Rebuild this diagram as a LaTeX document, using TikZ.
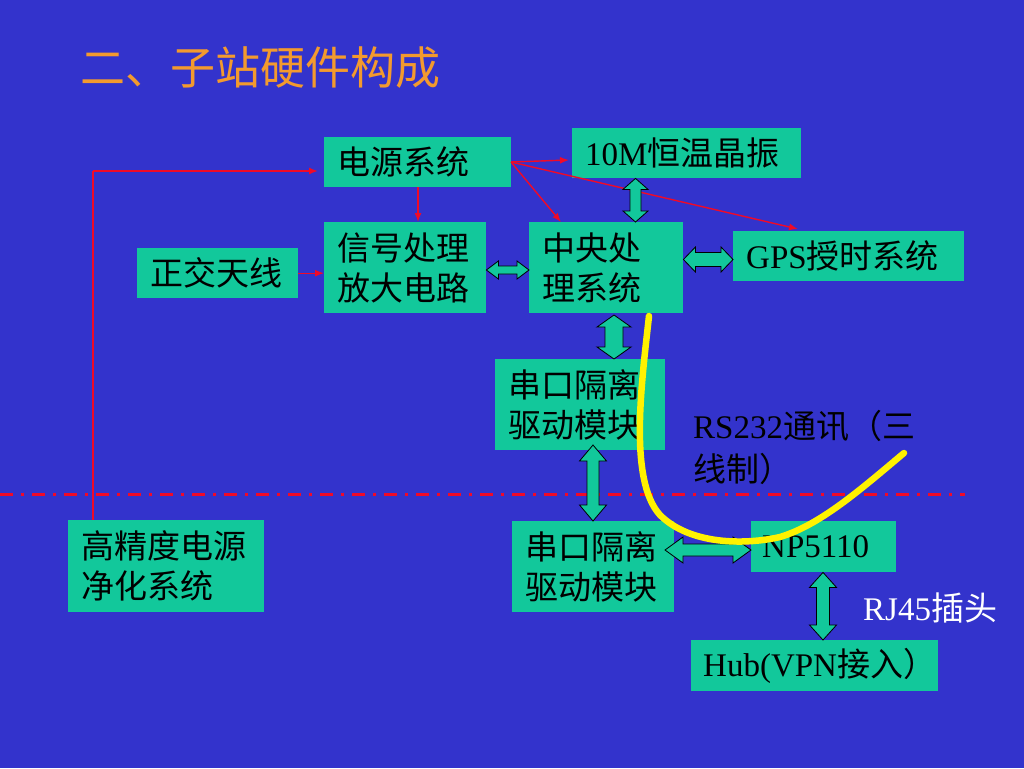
\documentclass[tikz,border=0pt]{standalone}
\usepackage{fontspec}
\setmainfont{Liberation Serif}
\newfontfamily\cjk{Noto Sans CJK SC}
\usetikzlibrary{calc,arrows.meta}
\definecolor{bgblue}{RGB}{51,51,204}
\definecolor{boxg}{RGB}{18,200,155}
\definecolor{ttl}{RGB}{243,154,46}
\definecolor{redl}{RGB}{240,10,40}
\newcommand\dblV[5]{% top, bottom, half shaft, half head, head length
  \draw[dblarr] (#1) -- ($(#1)+(#4,#5)$) -- ($(#1)+(#3,#5)$) -- ($(#2)+(#3,-#5)$) -- ($(#2)+(#4,-#5)$) -- (#2)
    -- ($(#2)+(-#4,-#5)$) -- ($(#2)+(-#3,-#5)$) -- ($(#1)+(-#3,#5)$) -- ($(#1)+(-#4,#5)$) -- cycle;}
\newcommand\dblH[5]{% left, right, half shaft, half head, head length
  \draw[dblarr] (#1) -- ($(#1)+(#5,-#4)$) -- ($(#1)+(#5,-#3)$) -- ($(#2)+(-#5,-#3)$) -- ($(#2)+(-#5,-#4)$) -- (#2)
    -- ($(#2)+(-#5,#4)$) -- ($(#2)+(-#5,#3)$) -- ($(#1)+(#5,#3)$) -- ($(#1)+(#5,#4)$) -- cycle;}
\tikzset{
  box/.style={fill=boxg, anchor=north west, inner xsep=13pt, inner ysep=0pt, align=left,
    font=\fontsize{33}{40}\selectfont, text=black},
  dblarr/.style={fill=boxg, draw=black, line width=0.8pt, line join=miter},
  redarr/.style={draw=redl, line width=1.4pt, -{Latex[length=9pt,width=7pt]}},
  redln/.style={draw=redl, line width=1.4pt},
}
\begin{document}
\begin{tikzpicture}[x=1pt,y=-1pt]
\useasboundingbox (0,0) rectangle (1024,768);
\fill[bgblue] (0,0) rectangle (1024,768);

% title
\node[anchor=west, inner sep=0pt, text=ttl, font=\cjk\fontsize{45}{48}\selectfont] (title) at (80,68) {二、子站硬件构成};

% boxes
\node[box, minimum width=187pt, minimum height=50pt, text width=161pt] (pwr) at (324,137) {\cjk 电源系统};
\node[box, minimum width=229pt, minimum height=50pt, text width=203pt] (osc) at (572,128) {10M{\cjk 恒温晶振}};
\node[box, minimum width=162pt, minimum height=91pt, text width=136pt] (sig) at (324,222) {\cjk 信号处理\\\cjk 放大电路};
\node[box, minimum width=154pt, minimum height=91pt, text width=128pt] (cpu) at (529,222) {\cjk 中央处\\\cjk 理系统};
\node[box, minimum width=231pt, minimum height=50pt, text width=205pt] (gps) at (733,231) {GPS{\cjk 授时系统}};
\node[box, minimum width=161pt, minimum height=50pt, text width=135pt] (ant) at (137,248) {\cjk 正交天线};
\node[box, minimum width=170pt, minimum height=91pt, text width=144pt] (ser1) at (495,359) {\cjk 串口隔离\\\cjk 驱动模块};
\node[box, minimum width=196pt, minimum height=92pt, text width=170pt] (hp) at (68,520) {\cjk 高精度电源\\\cjk 净化系统};
\node[box, minimum width=162pt, minimum height=91pt, text width=136pt] (ser2) at (512,521) {\cjk 串口隔离\\\cjk 驱动模块};
\node[box, minimum width=145pt, minimum height=51pt, text width=123pt, inner xsep=11pt] (np) at (751,521) {NP5110};
\node[box, minimum width=247pt, minimum height=51pt, text width=223pt, inner xsep=12pt] (hub) at (691,640) {Hub(VPN{\cjk 接入）}};

% labels
\node[anchor=north west, inner sep=0pt, align=left, font=\fontsize{33}{43}\selectfont, text=black] (rs) at (693,410) {RS232{\cjk 通讯（三}\\{\cjk 线制）}};
\node[anchor=west, inner sep=0pt, font=\fontsize{33}{40}\selectfont, text=white] (rj) at (863,608) {RJ45{\cjk 插头}};

% dash-dot separator
\coordinate (dl) at (0,494);
\coordinate (dr) at (965,494);
\draw[redl, line width=3pt, dash pattern=on 13pt off 8pt on 3pt off 8pt] (dl) -- (dr);

% red power lines
\coordinate (pc) at (93,171);
\draw[redln] (hp.north -| 93,0) -- (pc);
\draw[redarr] (pc) -- ([xshift=-6pt]pwr.west |- 0,171);
\draw[redarr] (ant.east) -- (sig.west |- ant.east);
\draw[redarr] (pwr.south -| 418,0) -- (sig.north -| 418,0);
\coordinate (ps) at (511,162);
\draw[redarr] (ps) -- (569,160);
\draw[redarr] (ps) -- (cpu.north -| 561,0);
\draw[redarr] (ps) -- (798,229);

% block double arrows
\coordinate (a1t) at (osc.south -| 635.5,0);
\coordinate (a1b) at (cpu.north -| 635.5,0);
\dblV{a1t}{a1b}{5.5}{12.5}{11}
\coordinate (a2l) at (sig.east |- 0,270);
\coordinate (a2r) at (cpu.west |- 0,270);
\dblH{a2l}{a2r}{4}{9}{12}
\coordinate (a3l) at (cpu.east |- 0,259.5);
\coordinate (a3r) at (gps.west |- 0,259.5);
\dblH{a3l}{a3r}{7}{12.5}{12}
\coordinate (a4t) at (614,315);
\coordinate (a4b) at (ser1.north -| 614,0);
\dblV{a4t}{a4b}{9}{17}{12}
\coordinate (a5t) at (593,445);
\coordinate (a5b) at (ser2.north -| 593,0);
\dblV{a5t}{a5b}{6}{13.5}{16}
\coordinate (a6l) at (665,550);
\coordinate (a6r) at (np.west |- 0,550);
\dblH{a6l}{a6r}{6}{13}{18}
\coordinate (a7t) at (np.south -| 823,0);
\coordinate (a7b) at (hub.north -| 823,0);
\dblV{a7t}{a7b}{6.5}{13.5}{15}

% yellow cable
\draw[yellow, line width=6.5pt, line cap=round] (649,316) .. controls (642,380) and (628,480) .. (660,515)
  .. controls (690,545) and (745,545) .. (780,537)
  .. controls (820,525) and (860,490) .. (904,453);
\end{tikzpicture}
\end{document}
